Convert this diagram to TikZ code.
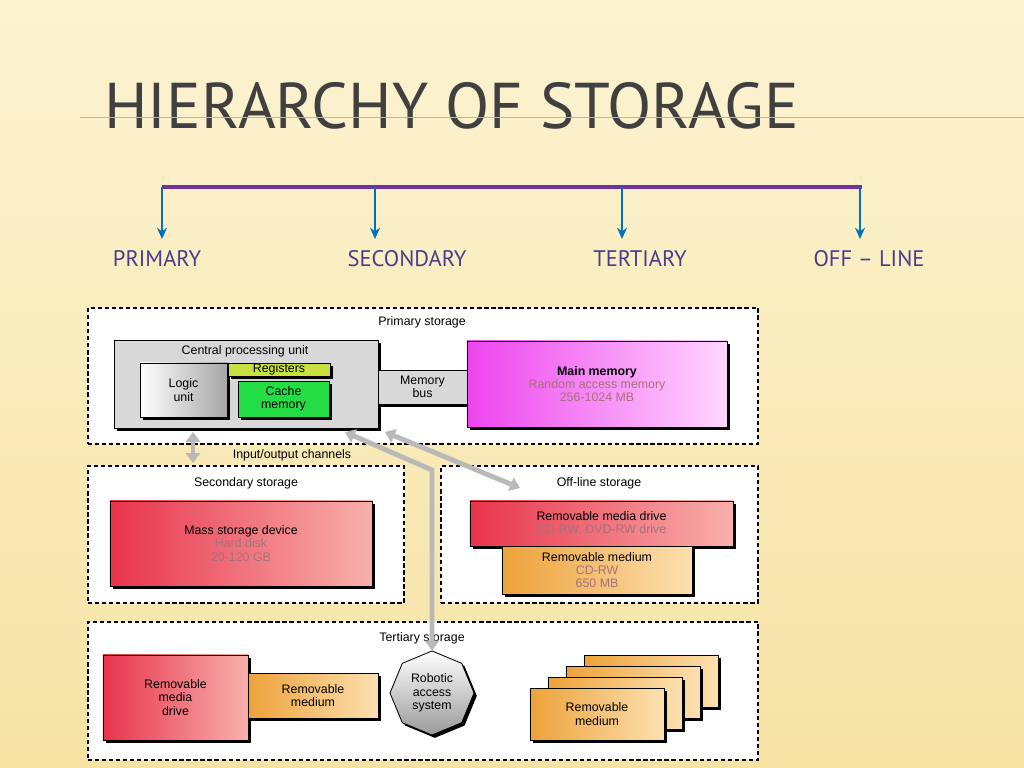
\documentclass[tikz,border=0pt]{standalone}
\usepackage{fontspec}
\setmainfont{Liberation Sans}
\newfontfamily\titlefont{PT Sans}
\usetikzlibrary{shapes.geometric,arrows.meta,shadows}
\definecolor{bgtop}{HTML}{FCF3D2}
\definecolor{bgbot}{HTML}{F6E3A4}
\definecolor{barpurple}{HTML}{7030A0}
\definecolor{arrblue}{HTML}{0070C0}
\definecolor{lblcol}{HTML}{4A3C8C}
\definecolor{titlecol}{HTML}{404040}
\definecolor{cpugray}{HTML}{D8D8D8}
\definecolor{regcol}{HTML}{C8E040}
\definecolor{cachecol}{HTML}{22DD44}
\definecolor{magA}{HTML}{EE44EE}
\definecolor{magB}{HTML}{FFD6FF}
\definecolor{redA}{HTML}{E8344C}
\definecolor{redB}{HTML}{F8B0AC}
\definecolor{orA}{HTML}{EDA23A}
\definecolor{orB}{HTML}{FCE0B0}
\definecolor{subtxt}{HTML}{A8707A}
\tikzset{
area/.style = {draw, densely dashed, line width=1.2pt, fill=white, minimum width=16.75cm, minimum height=3.4cm},
blk/.style = {draw, line width=0.6pt, align=center, inner sep=0pt, font=\fontsize{8.8}{9.5}\selectfont,
  drop shadow={shadow xshift=2pt, shadow yshift=-2pt, fill=black, opacity=1}},
caption/.style = {font=\fontsize{8.8}{9.5}\selectfont, inner sep=0pt},
lbl/.style = {font=\titlefont\fontsize{16}{16}\selectfont, text=lblcol},
dblarrow/.style = {draw=gray!55, line width=3.5pt, {Triangle[length=7pt,width=10pt]}-{Triangle[length=7pt,width=10pt]}},
medium/.style = {blk, left color=orA, right color=orB}
}
\begin{document}
\begin{tikzpicture}[x=0.025cm, y=-0.025cm]
    % background and title
    \fill[top color=bgtop, bottom color=bgbot] (0,0) rectangle (1024,768);
    \useasboundingbox (0,0) rectangle (1024,768);
    \node[anchor=west, inner sep=0pt, text=titlecol, font=\titlefont\fontsize{46}{46}\selectfont] (title) at (104,106) {HIERARCHY OF STORAGE};
    \draw[orange!70, line width=0.6pt] (80,117) -- (1024,117);

    % the bar with its four arrows
    \coordinate (barL) at (162,187);
    \coordinate (barR) at (862,187);
    \draw[barpurple, line width=2.5pt] (barL) -- (barR);
    \foreach \x/\name/\txt/\lx in {162/prim/PRIMARY/157, 375/sec/SECONDARY/407, 622/ter/TERTIARY/640, 860/off/OFF – LINE/869} {
        \coordinate (top\name) at (\x,187);
        \coordinate (tip\name) at (\x,239);
        \draw[arrblue, line width=1.5pt, -{Stealth[length=8pt,width=7pt]}] (top\name) -- (tip\name);
        \node[lbl] (l\name) at (\lx,259) {\txt};
    }

    % primary storage
    \node[area] (primary) at (423,376) {};
    \node[caption] (primcap) at (422,322) {Primary storage};
    \node[blk, fill=cpugray, minimum width=6.6cm, minimum height=2.2cm] (cpu) at (246,384) {};
    \node[caption] (cpucap) at (245,351) {Central processing unit};
    \node[blk, left color=white, right color=gray!70, drop shadow={opacity=0}, minimum width=2.175cm, minimum height=1.35cm] (logic) at (183.5,390) {Logic\\unit};
    \node[blk, fill=regcol, drop shadow={opacity=0}, minimum width=2.55cm, minimum height=0.325cm] (reg) at (279,369.5) {Registers};
    \node[blk, fill=cachecol, drop shadow={opacity=0}, minimum width=2.275cm, minimum height=0.9cm] (cache) at (283.5,399) {Cache\\memory};
    \node[blk, fill=cpugray, drop shadow={opacity=0}, minimum width=2.225cm, minimum height=0.85cm] (bus) at (422.5,387) {Memory\\bus};
    \node[blk, left color=magA, right color=magB, minimum width=6.5cm, minimum height=2.15cm] (main) at (597,384)
        {\textbf{Main memory}\\{\color{subtxt}Random access memory}\\{\color{subtxt}256-1024 MB}};

    \node[caption] (iocap) at (292,455) {Input/output channels};

    % secondary storage
    \node[area, minimum width=7.9cm, minimum height=3.425cm] (secondary) at (246,534.5) {};
    \node[caption] (seccap) at (246,483) {Secondary storage};
    \node[blk, left color=redA, right color=redB, minimum width=6.55cm, minimum height=2.125cm] (mass) at (241,543.5)
        {Mass storage device\\{\color{subtxt}Hard disk}\\{\color{subtxt}20-120 GB}};

    % off-line storage
    \node[area, minimum width=7.925cm, minimum height=3.425cm] (offline) at (599.5,534.5) {};
    \node[caption] (offcap) at (599,483) {Off-line storage};
    \node[blk, left color=redA, right color=redB, minimum width=6.575cm, minimum height=1.125cm] (rmd) at (601.5,523.5)
        {Removable media drive\\{\color{subtxt}CD-RW, DVD-RW drive}};
    \node[medium, minimum width=4.75cm, minimum height=1.2cm] (rm) at (597,570)
        {Removable medium\\{\color{subtxt}CD-RW}\\{\color{subtxt}650 MB}};

    % tertiary storage
    \node[area, minimum height=3.45cm] (tertiary) at (423,691) {};
    \node[caption] (tercap) at (422,638) {Tertiary storage};
    \node[blk, left color=redA, right color=redB, minimum width=3.625cm, minimum height=2.125cm] (drive) at (175.5,697.5) {Removable\\media\\drive};
    \node[medium, minimum width=3.25cm, minimum height=1.125cm] (tmed) at (313,695.5) {Removable\\medium};
    \node[blk, regular polygon, regular polygon sides=8, shape border rotate=22.5, minimum size=2.1cm,
        top color=white, bottom color=gray!80, drop shadow={opacity=0}] (robot) at (432,693) {Robotic\\access\\system};
    \foreach \k in {3,2,1} {
        \node[medium, minimum width=3.35cm, minimum height=1.3cm] (stack\k) at (597+18*\k,714-11*\k) {};
    }
    \node[medium, minimum width=3.35cm, minimum height=1.3cm] (stack0) at (597,714) {Removable\\medium};

    % channels
    \coordinate (bend) at (432,470);
    \draw[dblarrow] (193,463) -- (193,432);
    \draw[dblarrow] (345,432) -- (bend) -- (robot.north);
    \draw[dblarrow] (520,488) -- (385,432);
\end{tikzpicture}
\end{document}
